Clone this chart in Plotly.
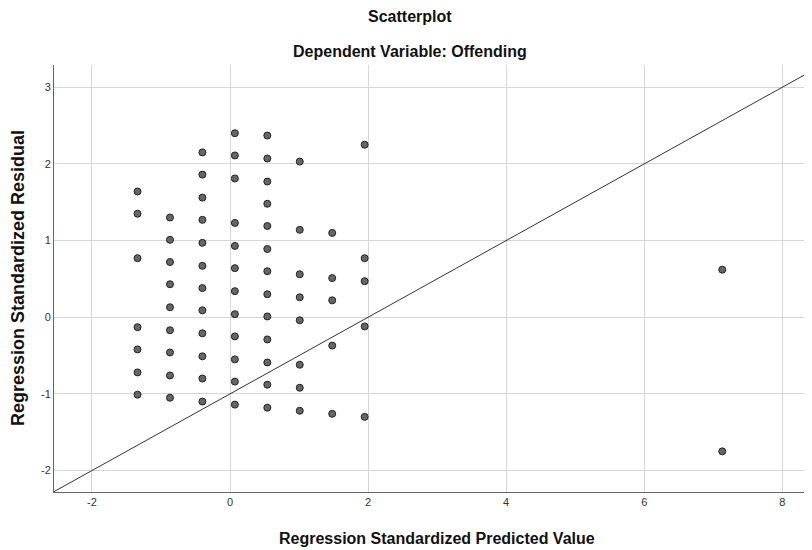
import plotly.graph_objects as go

# Residual scatter data (standardized predicted value, standardized residual)
col_x = [-1.34, -0.87, -0.40, 0.07, 0.54, 1.01, 1.48, 1.95, 7.13]
col_y = [
    [1.64, 1.35, 0.77, -0.13, -0.42, -0.72, -1.01],
    [1.30, 1.01, 0.72, 0.43, 0.13, -0.17, -0.46, -0.76, -1.05],
    [2.15, 1.86, 1.56, 1.27, 0.97, 0.67, 0.38, 0.09, -0.21, -0.51, -0.80, -1.10],
    [2.40, 2.11, 1.81, 1.23, 0.93, 0.64, 0.34, 0.04, -0.25, -0.55, -0.84, -1.14],
    [2.37, 2.07, 1.77, 1.48, 1.19, 0.89, 0.60, 0.30, 0.01, -0.29, -0.59, -0.88, -1.18],
    [2.03, 1.14, 0.56, 0.26, -0.04, -0.62, -0.92, -1.22],
    [1.10, 0.51, 0.22, -0.37, -1.26],
    [2.25, 0.77, 0.47, -0.12, -1.30],
    [0.62, -1.75],
]
# reference line (passes through (-2,-2) and (8,3))
ref_line_x = [-2.55, 8.45]
ref_line_y = [-2.275, 3.225]

x_range = [-2.55, 8.43]
y_range = [-2.28, 3.29]
x_ticks = [-2, 0, 2, 4, 6, 8]
x_tick_text = ["-2", "0", "2", "4", "6", "8"]
y_ticks = [-2, -1, 0, 1, 2, 3]
y_tick_text = ["-2", "-1", "0", "1", "2", "3"]

xs, ys = [], []
for cx, cys in zip(col_x, col_y):
    for v in cys:
        xs.append(cx)
        ys.append(v)

font = "Liberation Sans, Arial, sans-serif"

fig = go.Figure()
fig.add_trace(go.Scatter(
    x=ref_line_x, y=ref_line_y, mode="lines",
    line=dict(color="#333333", width=1), hoverinfo="skip", showlegend=False,
))
fig.add_trace(go.Scatter(
    x=xs, y=ys, mode="markers",
    marker=dict(size=7, color="#666666", line=dict(color="#222222", width=1)),
    showlegend=False,
))

axis_common = dict(showgrid=True, gridcolor="#d6d6d6", gridwidth=1, zeroline=False,
                   showline=True, linecolor="#666666", linewidth=1, ticks="",
                   tickfont=dict(size=11, family=font, color="#333333"))

H = 427  # plot height in px
# page body has an 8px default margin, so the figure is 8px smaller than the window
fig.update_layout(
    width=804, height=542,
    margin=dict(l=46, r=0, t=57, b=58, autoexpand=False),
    paper_bgcolor="white", plot_bgcolor="white",
    font=dict(family=font, color="#222222"),
    xaxis=dict(range=x_range, tickvals=x_ticks, ticktext=x_tick_text, **axis_common),
    yaxis=dict(range=y_range, tickvals=y_ticks, ticktext=y_tick_text, **axis_common),
    annotations=[
        dict(text="<b>Scatterplot</b>", xref="paper", yref="paper",
             x=(410 - 54) / 758, y=(492 - 16) / H, showarrow=False,
             font=dict(size=16, family=font, color="#111111"), xanchor="center", yanchor="middle"),
        dict(text="<b>Dependent Variable: Offending</b>", xref="paper", yref="paper",
             x=(410 - 54) / 758, y=(492 - 52) / H, showarrow=False,
             font=dict(size=16, family=font, color="#111111"), xanchor="center", yanchor="middle"),
        dict(text="<b>Regression Standardized Predicted Value</b>", xref="paper", yref="paper",
             x=(437 - 54) / 758, y=(492 - 538) / H, showarrow=False,
             font=dict(size=16, family=font, color="#111111"), xanchor="center", yanchor="middle"),
        dict(text="<b>Regression Standardized Residual</b>", xref="paper", yref="paper",
             x=(18 - 54) / 758, y=(492 - 278) / H, showarrow=False, textangle=-90,
             font=dict(size=18, family=font, color="#111111"), xanchor="center", yanchor="middle"),
    ],
)

fig.write_html("out.html")
